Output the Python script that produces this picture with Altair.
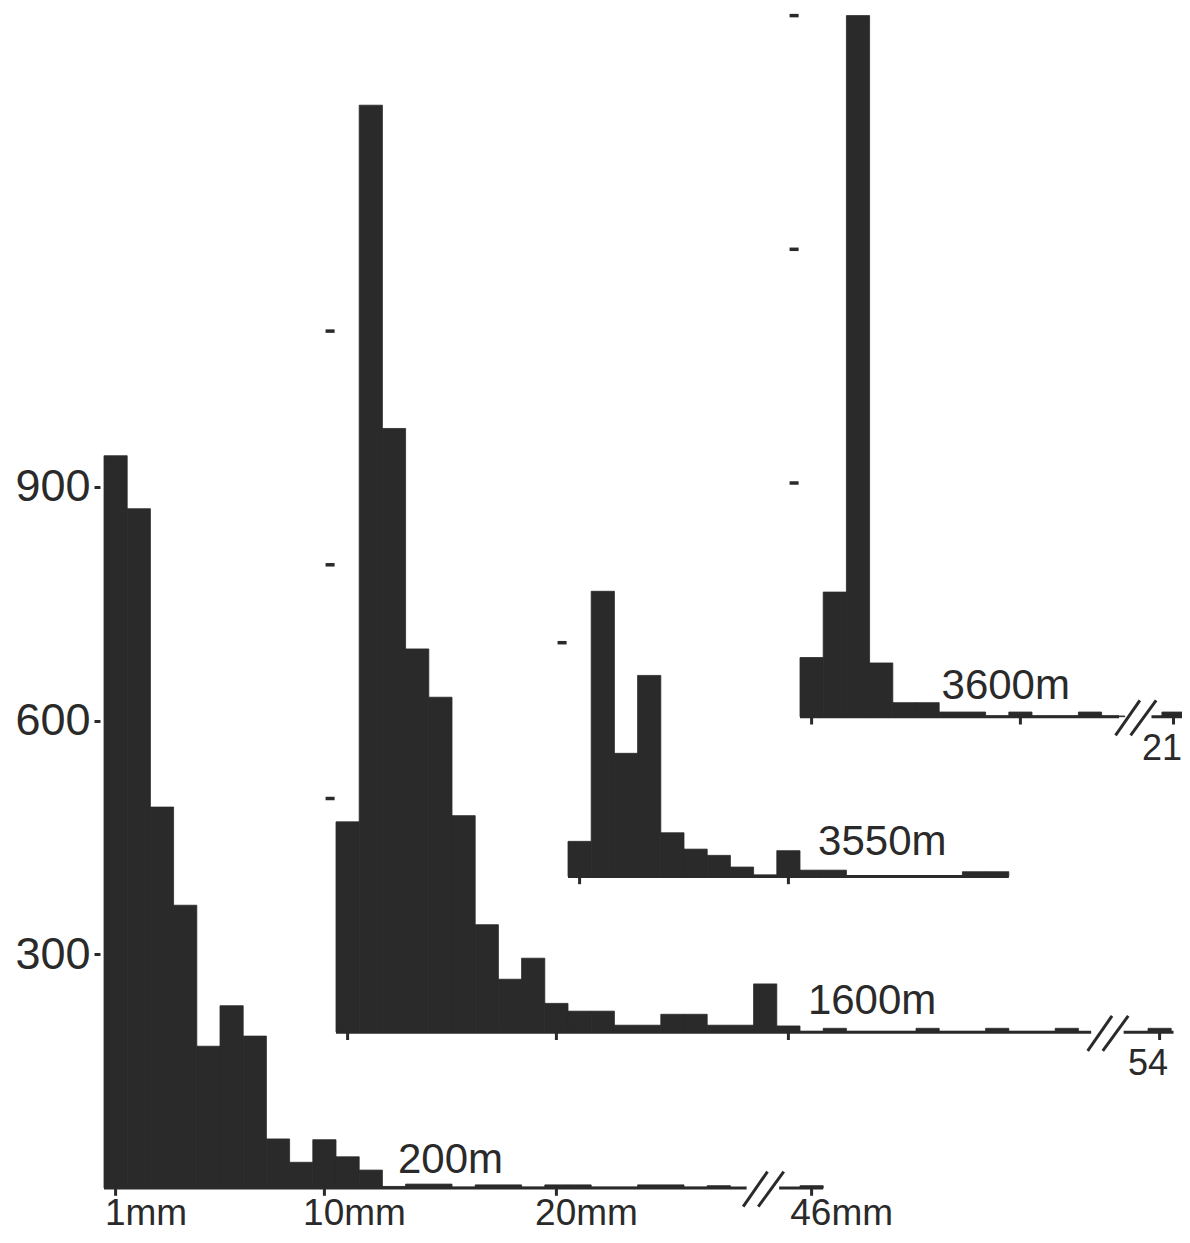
import altair as alt
import pandas as pd

FONT = "Liberation Sans"
INK = "#2a2a2a"

# ---------------- data (counts per 1 mm class) ----------------
series = ["200m", "1600m", "3550m", "3600m"]

bins_200 = list(range(1, 28)) + [46]
counts_200 = [940, 872, 489, 363, 182, 234, 195, 63, 33, 62, 40, 23, 2, 5, 5, 1,
              4, 4, 1, 4, 4, 1, 1, 4, 4, 1, 3, 3]

bins_1600 = list(range(1, 33)) + [54]
counts_1600 = [270, 1190, 775, 492, 430, 278, 138, 68, 95, 37, 27, 27, 9, 9, 23, 23,
               9, 9, 62, 8, 1, 5, 1, 1, 1, 5, 1, 1, 5, 1, 1, 5, 5]

bins_3550 = list(range(1, 20))
counts_3550 = [45, 366, 158, 258, 56, 35, 27, 12, 2, 33, 8, 8, 1, 1, 1, 1, 1, 6, 6]

bins_3600 = list(range(1, 15)) + [21]
counts_3600 = [76, 160, 900, 69, 18, 18, 6, 6, 1, 6, 1, 1, 6, 1, 6]

all_bins = [bins_200, bins_1600, bins_3550, bins_3600]
all_counts = [counts_200, counts_1600, counts_3550, counts_3600]

# axis labels
x_label_bins = [1, 10, 20, 46]
x_labels = ["1mm", "10mm", "20mm", "46mm"]
ticked_bins = [[1, 10, 20, 46], [1, 10, 20, 54], [1, 10], [1, 10, 21]]
end_labels = {"1600m": "54", "3600m": "21"}
y_ticks = [300, 600, 900]
scale_dashes = [[], [300, 600, 900], [300], [300, 600, 900]]

# ---------------- layout (staggered pseudo-3D arrangement) ----------------
X_SHIFT = [0, 10, 20, 30]          # in class widths
Y_SHIFT = [0, 200, 400, 605]       # in count units
TAIL_SLOT = {"200m": 31, "1600m": 36, "3600m": 16.6}   # right edge of class drawn after break
BREAK_AT = {"200m": 28.4, "1600m": 33.25, "3600m": 14.45}
AXIS_END = [31, 36.1, 19, 17]
NAME_POS = [(12.67, 19), (20.34, 23), (10.78, 28), (6.1, 23)]
LABEL_DROP = -55
MM_LABEL_DROP = -48

PX_PER_SLOT = 23.2
PX_PER_UNIT = 0.779
W, H = 1082, 1227
X0 = -4 / PX_PER_SLOT
X1 = X0 + W / PX_PER_SLOT
Y0 = (1188 - 1235) / PX_PER_UNIT
Y1 = Y0 + H / PX_PER_UNIT


def slot_right(name, b):
    if name in TAIL_SLOT and b > BREAK_AT[name]:
        return TAIL_SLOT[name]
    return b


bar_rows, base_rows, slash_rows, tick_rows, dash_rows, text_rows = [], [], [], [], [], []
for i, name in enumerate(series):
    xs0, ys0 = X_SHIFT[i], Y_SHIFT[i]
    for b, c in zip(all_bins[i], all_counts[i]):
        r = slot_right(name, b)
        bar_rows.append({"x0": xs0 + r - 1, "x1": xs0 + r, "y0": ys0, "y1": ys0 + c})
    if name in BREAK_AT:
        c = BREAK_AT[name]
        base_rows.append({"x0": xs0, "x1": xs0 + c - 0.7, "y": ys0})
        base_rows.append({"x0": xs0 + c + 0.7, "x1": xs0 + AXIS_END[i], "y": ys0})
        slash_rows.append({"x0": xs0 + c - 0.85, "x1": xs0 + c + 0.2, "y0": ys0 - 24, "y1": ys0 + 21})
        slash_rows.append({"x0": xs0 + c - 0.2, "x1": xs0 + c + 0.9, "y0": ys0 - 24, "y1": ys0 + 21})
    else:
        base_rows.append({"x0": xs0, "x1": xs0 + AXIS_END[i], "y": ys0})
    for b in ticked_bins[i]:
        tick_rows.append({"x": xs0 + slot_right(name, b) - 0.5, "y0": ys0, "y1": ys0 - 10})
    for v in scale_dashes[i]:
        dash_rows.append({"x0": xs0 - 0.45, "x1": xs0 - 0.06, "y": ys0 + v})
    nx, ny = NAME_POS[i]
    text_rows.append({"x": xs0 + nx, "y": ys0 + ny, "t": name, "size": 42, "align": "left"})
    if name in end_labels:
        tb = ticked_bins[i][-1]
        text_rows.append({"x": xs0 + slot_right(name, tb) - 1.0, "y": ys0 + LABEL_DROP,
                          "t": end_labels[name], "size": 36, "align": "center"})

for b, lab in zip(x_label_bins, x_labels):
    num = lab.replace("mm", "")
    text_rows.append({"x": slot_right("200m", b) - 0.5 - 0.46 * len(num), "y": MM_LABEL_DROP,
                      "t": lab, "size": 37, "align": "left"})

bars = pd.DataFrame(bar_rows)
bases = pd.DataFrame(base_rows)
slashes = pd.DataFrame(slash_rows)
ticks = pd.DataFrame(tick_rows)
dashes = pd.DataFrame(dash_rows)
texts = pd.DataFrame(text_rows)

xsc = alt.Scale(domain=[X0, X1], nice=False, zero=False)
ysc = alt.Scale(domain=[Y0, Y1], nice=False, zero=False)


def yaxis():
    return alt.Axis(values=y_ticks, domain=False, grid=False, tickSize=6, tickWidth=3,
                    tickColor=INK, labelFont=FONT, labelFontSize=45, labelColor=INK,
                    labelPadding=4, title=None, labelOverlap=False)


bar_layer = alt.Chart(bars).mark_rect(color=INK, stroke=INK, strokeWidth=0.8, clip=True).encode(
    x=alt.X("x0:Q", scale=xsc, axis=None), x2="x1:Q",
    y=alt.Y("y0:Q", scale=ysc, axis=yaxis()), y2="y1:Q")

base_layer = alt.Chart(bases).mark_rule(color=INK, strokeWidth=3, clip=True).encode(
    x=alt.X("x0:Q", scale=xsc, axis=None), x2="x1:Q",
    y=alt.Y("y:Q", scale=ysc, axis=yaxis()))

slash_layer = alt.Chart(slashes).mark_rule(color=INK, strokeWidth=3, clip=True).encode(
    x=alt.X("x0:Q", scale=xsc, axis=None), x2="x1:Q",
    y=alt.Y("y0:Q", scale=ysc, axis=yaxis()), y2="y1:Q")

tick_layer = alt.Chart(ticks).mark_rule(color=INK, strokeWidth=3, clip=True).encode(
    x=alt.X("x:Q", scale=xsc, axis=None),
    y=alt.Y("y0:Q", scale=ysc, axis=yaxis()), y2="y1:Q")

dash_layer = alt.Chart(dashes).mark_rule(color=INK, strokeWidth=3.5, clip=True).encode(
    x=alt.X("x0:Q", scale=xsc, axis=None), x2="x1:Q",
    y=alt.Y("y:Q", scale=ysc, axis=yaxis()))

text_layers = []
for (size, align), grp in texts.groupby(["size", "align"]):
    text_layers.append(
        alt.Chart(grp).mark_text(font=FONT, fontSize=int(size), align=align,
                                 baseline="alphabetic", color=INK).encode(
            x=alt.X("x:Q", scale=xsc, axis=None),
            y=alt.Y("y:Q", scale=ysc, axis=yaxis()),
            text="t:N"))

chart = alt.layer(bar_layer, base_layer, slash_layer, tick_layer, dash_layer, *text_layers).properties(
    width=W, height=H,
    autosize=alt.AutoSizeParams(type="none"),
    padding={"left": 92, "top": 0, "right": 0, "bottom": 0},
    background="white",
).configure_view(stroke=None)

chart.save("out.html", embed_options={"renderer": "svg", "actions": False})
